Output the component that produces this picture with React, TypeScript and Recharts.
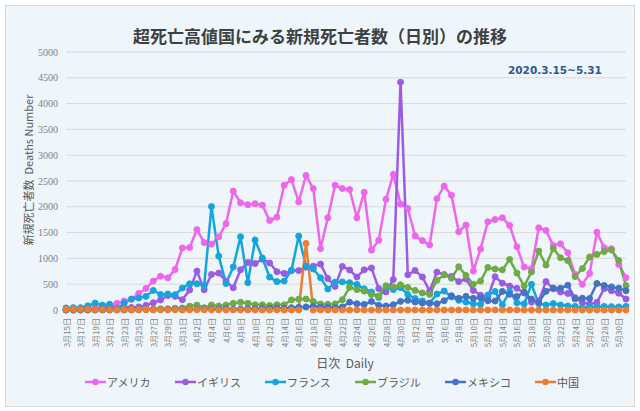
import React from 'react';
import { LineChart, Line, XAxis, YAxis, CartesianGrid, Legend } from 'recharts';

const FONT = '"Noto Sans CJK JP", "Noto Sans", sans-serif';

const dates = [
  '3月15日', '3月16日', '3月17日', '3月18日', '3月19日', '3月20日', '3月21日', '3月22日', '3月23日', '3月24日',
  '3月25日', '3月26日', '3月27日', '3月28日', '3月29日', '3月30日', '3月31日',
  '4月1日', '4月2日', '4月3日', '4月4日', '4月5日', '4月6日', '4月7日', '4月8日', '4月9日', '4月10日',
  '4月11日', '4月12日', '4月13日', '4月14日', '4月15日', '4月16日', '4月17日', '4月18日', '4月19日', '4月20日',
  '4月21日', '4月22日', '4月23日', '4月24日', '4月25日', '4月26日', '4月27日', '4月28日', '4月29日', '4月30日',
  '5月1日', '5月2日', '5月3日', '5月4日', '5月5日', '5月6日', '5月7日', '5月8日', '5月9日', '5月10日',
  '5月11日', '5月12日', '5月13日', '5月14日', '5月15日', '5月16日', '5月17日', '5月18日', '5月19日', '5月20日',
  '5月21日', '5月22日', '5月23日', '5月24日', '5月25日', '5月26日', '5月27日', '5月28日', '5月29日', '5月30日',
  '5月31日',
];

const usa = [
  10, 15, 25, 30, 50, 60, 90, 129, 174, 206,
  322, 418, 560, 656, 624, 785, 1203, 1210, 1557, 1306,
  1274, 1416, 1673, 2304, 2078, 2040, 2060, 2032, 1735, 1800,
  2419, 2528, 2096, 2606, 2354, 1187, 1787, 2419, 2354, 2335,
  1787, 2283, 1160, 1350, 2145, 2628, 2055, 1968, 1436, 1345,
  1260, 2158, 2404, 2226, 1517, 1646, 754, 1180, 1710, 1754,
  1787, 1638, 1225, 832, 800, 1593, 1541, 1251, 1283, 1109,
  690, 497, 709, 1509, 1206, 1187, 884, 626,
];

const uk = [
  1, 11, 14, 20, 16, 33, 40, 33, 56, 48,
  60, 90, 140, 195, 280, 265, 200, 386, 754, 393,
  690, 715, 560, 430, 780, 920, 900, 985, 910, 742,
  709, 760, 764, 830, 850, 890, 610, 457, 845, 775,
  640, 778, 815, 415, 350, 590, 4414, 682, 766, 640,
  367, 734, 686, 650, 550, 600, 380, 287, 250, 645,
  520, 464, 420, 330, 150, 175, 550, 410, 350, 320,
  239, 142, 115, 148, 415, 372, 325, 212,
];

const france = [
  40, 45, 45, 80, 135, 95, 112, 20, 130, 212,
  232, 265, 380, 300, 311, 296, 425, 508, 508, 470,
  2004, 1045, 515, 834, 1420, 530, 1355, 1008, 638, 550,
  560, 770, 1432, 850, 795, 625, 405, 540, 545, 530,
  495, 410, 350, 240, 440, 395, 435, 300, 222, 175,
  135, 310, 367, 251, 187, 154, 122, 110, 290, 360,
  100, 360, 140, 120, 497, 122, 97, 125, 97, 77,
  70, 45, 55, 65, 70, 65, 60, 70,
];

const brazil = [
  0, 0, 0, 0, 1, 2, 3, 4, 7, 11,
  15, 18, 20, 22, 25, 35, 40, 75, 95, 45,
  97, 77, 97, 129, 150, 130, 100, 100, 86, 100,
  100, 195, 210, 212, 165, 118, 110, 118, 200, 440,
  395, 365, 300, 270, 470, 447, 488, 438, 380, 330,
  302, 576, 680, 615, 838, 670, 500, 560, 825, 795,
  778, 980, 716, 464, 738, 1142, 871, 1190, 1013, 958,
  648, 803, 1029, 1078, 1132, 1165, 958, 474,
];

const mexico = [
  0, 0, 0, 0, 1, 1, 1, 2, 1, 2,
  3, 4, 4, 8, 8, 8, 8, 12, 13, 16,
  19, 19, 25, 16, 20, 22, 25, 30, 35, 38,
  30, 45, 52, 60, 70, 55, 50, 45, 60, 150,
  122, 109, 165, 90, 78, 103, 167, 187, 154, 135,
  130, 122, 180, 277, 226, 264, 226, 238, 180, 174,
  360, 303, 262, 345, 212, 152, 362, 425, 422, 480,
  216, 229, 222, 513, 474, 448, 422, 374,
];

const china = [
  14, 13, 11, 13, 11, 8, 3, 7, 9, 7,
  6, 4, 6, 5, 5, 4, 1, 7, 6, 4,
  3, 3, 1, 2, 2, 1, 2, 1, 0, 2,
  0, 1, 0, 1290, 0, 0, 0, 0, 0, 0,
  0, 0, 0, 0, 0, 0, 0, 0, 0, 0,
  0, 0, 0, 0, 0, 0, 0, 0, 0, 0,
  0, 0, 0, 0, 0, 0, 0, 0, 0, 0,
  0, 0, 0, 0, 0, 0, 0, 0,
];

const yTicks = [0, 500, 1000, 1500, 2000, 2500, 3000, 3500, 4000, 4500, 5000];

const seriesList = [
  { key: 'usa', name: 'アメリカ', color: '#EE66EE', values: usa },
  { key: 'uk', name: 'イギリス', color: '#9B5BE3', values: uk },
  { key: 'france', name: 'フランス', color: '#14A5DD', values: france },
  { key: 'brazil', name: 'ブラジル', color: '#6FAB45', values: brazil },
  { key: 'mexico', name: 'メキシコ', color: '#4472C4', values: mexico },
  { key: 'china', name: '中国', color: '#ED7D31', values: china },
];

const data = dates.map((date, i) => {
  const row: Record<string, string | number> = { date };
  seriesList.forEach((s) => {
    row[s.key] = s.values[i];
  });
  return row;
});

// 縦書きの日付ラベル
function DateTick({ x, y, payload }: any) {
  return (
    <text
      x={x}
      y={y}
      transform={`rotate(-90 ${x} ${y})`}
      textAnchor="end"
      dominantBaseline="central"
      fontSize={8}
      fontFamily={FONT}
      fill="#7F7F7F"
    >
      {payload.value}
    </text>
  );
}

function LegendContent() {
  return (
    <div style={{ display: 'flex', alignItems: 'center', height: 20, paddingLeft: 85 }}>
      {seriesList.map((s) => (
        <div key={s.key} style={{ width: 90, display: 'flex', alignItems: 'center', flexShrink: 0 }}>
          <svg width={21} height={10} style={{ display: 'block' }}>
            <line x1={0} y1={5} x2={21} y2={5} stroke={s.color} strokeWidth={2.5} />
            <circle cx={10.5} cy={5} r={3.2} fill={s.color} />
          </svg>
          <span style={{ fontSize: 11, color: '#595959', fontFamily: FONT, marginLeft: 1 }}>{s.name}</span>
        </div>
      ))}
    </div>
  );
}

export default function App() {
  return (
    <div style={{ position: 'absolute', left: 0, top: 0, width: 640, height: 411, background: '#fff', fontFamily: FONT }}>
      <div
        style={{
          position: 'absolute',
          left: 5,
          top: 5,
          width: 628,
          height: 400,
          border: '1px solid #D9D9D9',
          background: '#EEF6FC',
        }}
      />
      <div
        style={{
          position: 'absolute',
          left: 0,
          top: 24,
          width: 640,
          textAlign: 'center',
          fontSize: 17,
          fontWeight: 'bold',
          color: '#404040',
          lineHeight: '24px',
        }}
      >
        超死亡高値国にみる新規死亡者数（日別）の推移
      </div>
      <div
        style={{
          position: 'absolute',
          left: 508,
          top: 63,
          fontSize: 10.5,
          fontWeight: 'bold',
          color: '#2F5597',
          lineHeight: '14px',
          fontFamily: 'Verdana, "DejaVu Sans", sans-serif',
        }}
      >
        2020.3.15~5.31
      </div>
      <div
        style={{
          position: 'absolute',
          left: 28,
          top: 170,
          transform: 'translate(-50%, -50%) rotate(-90deg)',
          whiteSpace: 'nowrap',
          fontSize: 11,
          color: '#595959',
        }}
      >
        新規死亡者数 &nbsp;Deaths Number
      </div>
      <div
        style={{
          position: 'absolute',
          left: 345,
          top: 362,
          transform: 'translate(-50%, -50%)',
          whiteSpace: 'nowrap',
          fontSize: 12,
          color: '#595959',
        }}
      >
        日次 &nbsp;Daily
      </div>
      <div style={{ position: 'absolute', left: 0, top: 0 }}>
        <LineChart width={640} height={411} data={data} margin={{ top: 52, right: 14, left: 6, bottom: 0 }}>
          <CartesianGrid vertical={false} stroke="#D9D9D9" strokeWidth={1} />
          <XAxis
            dataKey="date"
            interval={1}
            tick={<DateTick />}
            tickLine={false}
            axisLine={{ stroke: '#D9D9D9' }}
            height={81}
          />
          <YAxis
            domain={[0, 5000]}
            ticks={yTicks}
            width={60}
            axisLine={false}
            tickLine={false}
            tick={{ fontSize: 10, fill: '#7F7F7F', fontFamily: '"Liberation Serif", serif' }}
          />
          <Legend
            content={<LegendContent />}
            wrapperStyle={{ left: 0, top: 372, width: 640, height: 20 }}
          />
          {seriesList.map((s) => (
            <Line
              key={s.key}
              type="linear"
              dataKey={s.key}
              name={s.name}
              stroke={s.color}
              strokeWidth={2.5}
              dot={{ r: 3, fill: s.color, stroke: s.color, strokeWidth: 1 }}
              activeDot={false}
              isAnimationActive={false}
            />
          ))}
        </LineChart>
      </div>
    </div>
  );
}
